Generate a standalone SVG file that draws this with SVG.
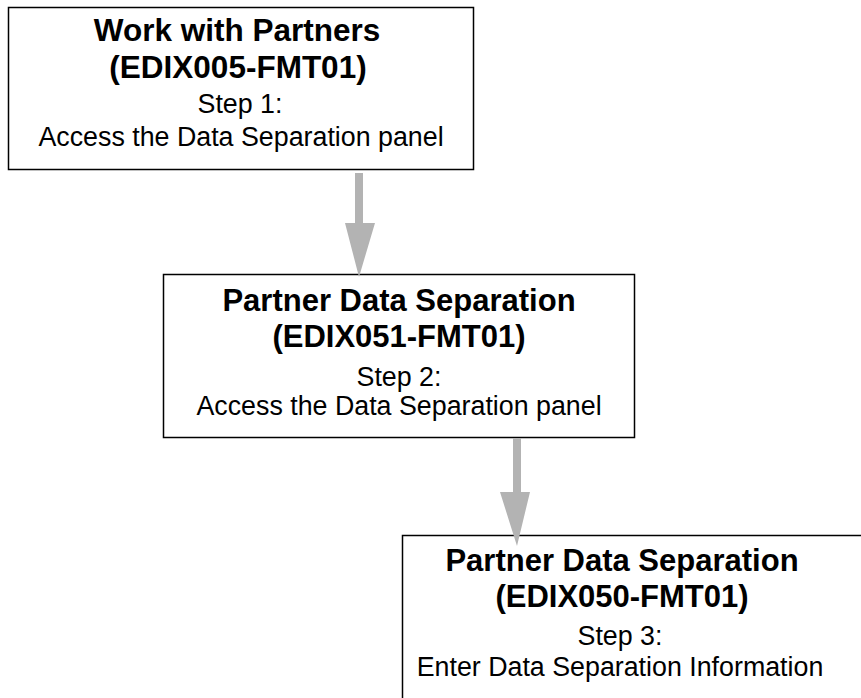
<svg xmlns="http://www.w3.org/2000/svg" width="861" height="698" viewBox="0 0 861 698">
<style>
.box{fill:#fff;stroke:#000;stroke-width:1.5}
.t{font-family:"Liberation Sans",Arial,sans-serif;font-weight:bold;font-size:31px;fill:#000;text-anchor:middle}
.b{font-family:"Liberation Sans",Arial,sans-serif;font-size:26.8px;fill:#000;text-anchor:middle}
.arr{fill:#b3b3b3}
</style>
<rect width="861" height="698" fill="#fff"/>
<g id="node1">
<rect class="box" x="8.5" y="7.5" width="465" height="162"/>
<text class="t" x="237" y="41" style="font-size:31.5px">Work with Partners</text>
<text class="t" x="238" y="78" style="font-size:31.5px">(EDIX005-FMT01)</text>
<text class="b" x="240" y="113">Step 1:</text>
<text class="b" x="241" y="146">Access the Data Separation panel</text>
</g>
<g id="node2">
<rect class="box" x="163.5" y="274.5" width="471" height="163"/>
<text class="t" x="399" y="311">Partner Data Separation</text>
<text class="t" x="399" y="347">(EDIX051-FMT01)</text>
<text class="b" x="399" y="386">Step 2:</text>
<text class="b" x="399" y="415">Access the Data Separation panel</text>
</g>
<g id="node3">
<rect class="box" x="402.5" y="535.5" width="500" height="200"/>
<text class="t" x="622" y="571">Partner Data Separation</text>
<text class="t" x="622" y="607">(EDIX050-FMT01)</text>
<text class="b" x="620" y="645">Step 3:</text>
<text class="b" x="620" y="676">Enter Data Separation Information</text>
</g>
<g id="connectors">
<path class="arr" d="M355 173 H363 V223 H375 L359 277 L345 223 H355 Z"/>
<path class="arr" d="M513 438 H521 V492 H530 L517 546 L500 492 H513 Z"/>
</g>
</svg>
